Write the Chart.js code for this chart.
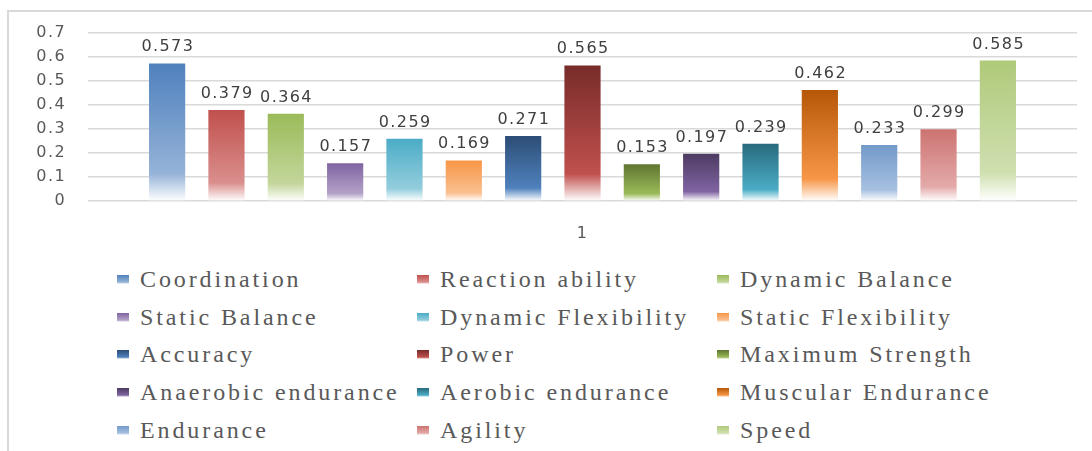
<!DOCTYPE html>
<html>
<head>
<meta charset="utf-8">
<script src="https://cdn.jsdelivr.net/npm/chart.js@4.4.1/dist/chart.umd.min.js"></script>
<style>
  html, body { margin: 0; padding: 0; background: #fff; }
  #wrap { position: relative; width: 1092px; height: 451px; overflow: hidden; }
  #frame { position: absolute; left: 7px; top: 10px; right: -5px; bottom: -5px;
           border-top: 2px solid #d9d9d9; border-left: 2px solid #d9d9d9; }
  #chartBox { position: absolute; left: 0; top: 0; width: 1092px; height: 251px; }
  #legend { position: absolute; left: 117px; top: 261px; display: grid;
            grid-template-columns: 300px 300px 300px; grid-auto-rows: 37.6px; }
  .item { display: flex; align-items: center; white-space: nowrap;
          font-family: 'Liberation Serif'; font-size: 24px;
          color: #595959; letter-spacing: 2.9px; }
  .sw { width: 12px; height: 9px; margin-right: 11px; flex: none; }
</style>
</head>
<body>
<div id="wrap">
  <div id="frame"></div>
  <div id="chartBox"><canvas id="chart" width="1092" height="251"></canvas></div>
  <div id="legend"></div>
</div>
<script>
// data
const categories = ['1'];
const seriesNames = [
  'Coordination', 'Reaction ability', 'Dynamic Balance',
  'Static Balance', 'Dynamic Flexibility', 'Static Flexibility',
  'Accuracy', 'Power', 'Maximum Strength',
  'Anaerobic endurance', 'Aerobic endurance', 'Muscular Endurance',
  'Endurance', 'Agility', 'Speed'
];
const seriesValues = [0.573, 0.379, 0.364, 0.157, 0.259, 0.169, 0.271, 0.565,
                      0.153, 0.197, 0.239, 0.462, 0.233, 0.299, 0.585];
const yTicks = [0, 0.1, 0.2, 0.3, 0.4, 0.5, 0.6, 0.7];

// gradient colours (top, lower part) per series
const topColors = ['#4F81BD', '#C0504D', '#9BBB59', '#8064A2', '#4BACC6', '#F79646',
                   '#2C4D75', '#772C2A', '#5F7530', '#4D3B62', '#276A7C', '#B65708',
                   '#729ACA', '#CD7371', '#AFC97A'];
const midColors = ['#95B3D7', '#DA8F8D', '#C3D69B', '#B3A2C7', '#93CDDD', '#FAC090',
                   '#4F81BD', '#C0504D', '#9BBB59', '#8064A2', '#4BACC6', '#F79646',
                   '#A7C0E0', '#E3AAA9', '#CFE0B0'];

function barFill(i) {
  return function(ctx) {
    const chart = ctx.chart;
    if (ctx.type !== 'data' || !chart.chartArea || !chart.scales.y) return topColors[i];
    const y = chart.scales.y;
    const top = y.getPixelForValue(ctx.raw);
    const base = y.getPixelForValue(0);
    if (!isFinite(top) || !isFinite(base) || base - top < 1) return topColors[i];
    const g = chart.ctx.createLinearGradient(0, top, 0, base);
    g.addColorStop(0, topColors[i]);
    g.addColorStop(0.8, midColors[i]);
    g.addColorStop(1, '#ffffff');
    return g;
  };
}

// wider letter spacing for the axis text, like the picture
const spacing = {
  id: 'spacing',
  beforeDraw(chart) { chart.ctx.letterSpacing = '1.4px'; }
};

// value labels above the bars
const valueLabels = {
  id: 'valueLabels',
  afterDatasetsDraw(chart) {
    const c = chart.ctx;
    c.save();
    c.font = '16px "DejaVu Sans"';
    c.fillStyle = '#404040';
    c.textAlign = 'center';
    c.textBaseline = 'alphabetic';
    c.letterSpacing = '1.4px';
    chart.data.datasets.forEach((ds, i) => {
      const meta = chart.getDatasetMeta(i);
      meta.data.forEach((bar, j) => {
        c.fillText(ds.data[j].toFixed(3), bar.x + 0.7, bar.y - 12);
      });
    });
    c.restore();
  }
};

// legend as 3 fixed columns under the chart
const gridLegend = {
  id: 'gridLegend',
  afterUpdate(chart) {
    const box = document.getElementById('legend');
    box.innerHTML = '';
    chart.data.datasets.forEach((ds, i) => {
      const item = document.createElement('div');
      item.className = 'item';
      const sw = document.createElement('span');
      sw.className = 'sw';
      sw.style.background = 'linear-gradient(' + topColors[i] + ', ' + midColors[i] + ' 80%, #fff)';
      item.appendChild(sw);
      item.appendChild(document.createTextNode(ds.label));
      box.appendChild(item);
    });
  }
};

const datasets = seriesNames.map((name, i) => ({
  label: name,
  data: [seriesValues[i]],
  backgroundColor: barFill(i),
  borderWidth: 0,
  categoryPercentage: 0.9,
  barPercentage: 0.61
}));

new Chart(document.getElementById('chart'), {
  type: 'bar',
  data: { labels: categories, datasets: datasets },
  plugins: [spacing, valueLabels, gridLegend],
  options: {
    responsive: false,
    maintainAspectRatio: false,
    animation: false,
    devicePixelRatio: 1,
    layout: { padding: { left: 0, top: 33, right: 15, bottom: 0 } },
    plugins: { legend: { display: false }, tooltip: { enabled: false } },
    scales: {
      x: {
        afterFit(scale) { scale.height = 50; },
        grid: { display: false },
        border: { display: false },
        ticks: { color: '#595959', padding: 15,
                 font: { family: 'DejaVu Sans', size: 16 } }
      },
      y: {
        min: 0, max: 0.7,
        afterFit(scale) { scale.width = 88; },
        afterBuildTicks(scale) { scale.ticks = yTicks.map(v => ({ value: v })); },
        grid: { color: '#d9d9d9', lineWidth: 1.6, drawTicks: false },
        border: { display: false },
        ticks: { color: '#595959', padding: 22, autoSkip: false,
                 font: { family: 'DejaVu Sans', size: 16 },
                 callback: v => (v === 0 ? '0' : v.toFixed(1)) }
      }
    }
  }
});
</script>
</body>
</html>
